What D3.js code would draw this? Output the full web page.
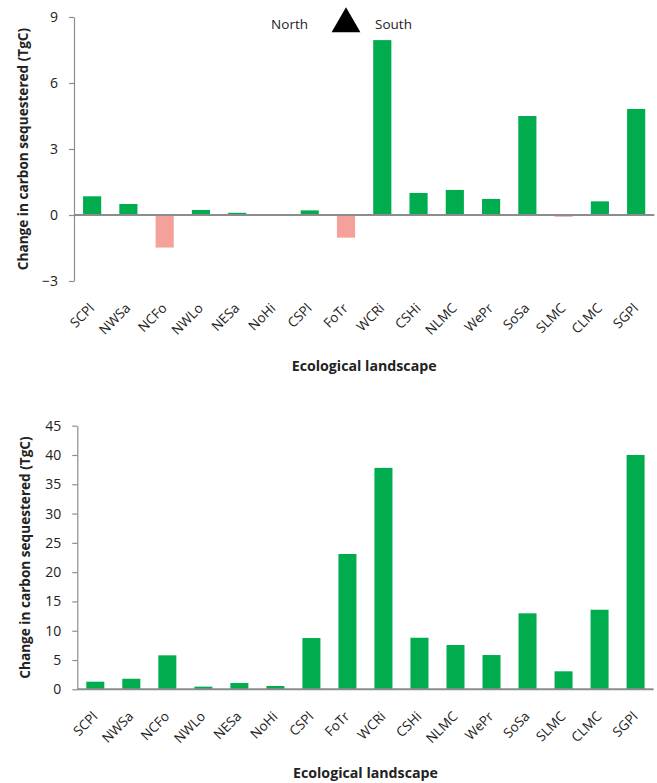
<!DOCTYPE html>
<html>
<head>
<meta charset="utf-8">
<script src="https://cdn.jsdelivr.net/npm/d3@7"></script>
<style>
  html, body { margin: 0; padding: 0; background: #fff; }
  svg { display: block; font-family: "Open Sans", "Noto Sans", sans-serif; }
</style>
</head>
<body>
<svg id="chart" width="657" height="783"></svg>
<script>
// Ecological landscapes, in north-to-south order
const landscapes = ["SCPl", "NWSa", "NCFo", "NWLo", "NESa", "NoHi", "CSPl", "FoTr",
                    "WCRi", "CSHi", "NLMC", "WePr", "SoSa", "SLMC", "CLMC", "SGPl"];

// Upper panel: change in carbon sequestered (TgC)
const changeUpper = [0.85, 0.5, -1.48, 0.23, 0.1, 0, 0.21, -1.03,
                     7.95, 1.0, 1.14, 0.73, 4.5, -0.08, 0.62, 4.82];
const ticksUpper = [-3, 0, 3, 6, 9];

// Lower panel: change in carbon sequestered (TgC)
const changeLower = [1.3, 1.8, 5.8, 0.45, 1.07, 0.56, 8.75, 23.1,
                     37.8, 8.8, 7.56, 5.85, 12.97, 3.07, 13.58, 40.0];
const ticksLower = [0, 5, 10, 15, 20, 25, 30, 35, 40, 45];

const yTitle = "Change in carbon sequestered (TgC)";
const xTitle = "Ecological landscape";

const GREEN = "#00AC4E";
const PINK = "#F4A09B";
const AXIS = "#8C8C8C";
const TEXT = "#222";

const svg = d3.select("#chart");

function panel(opts) {
  const { values, ticks, domain, left, right, top, bottom, titleX, titleBaseline } = opts;
  const g = svg.append("g");

  const x = d3.scaleBand().domain(landscapes).range([left, right]).padding(0);
  const y = d3.scaleLinear().domain(domain).range([bottom, top]);
  const barW = x.bandwidth() * 0.5;

  // bars
  g.append("g").selectAll("rect")
    .data(landscapes.map((k, i) => ({ k, v: values[i] })))
    .join("rect")
    .attr("x", d => x(d.k) + (x.bandwidth() - barW) / 2)
    .attr("width", barW)
    .attr("y", d => d.v >= 0 ? y(d.v) : y(0) + 1)
    .attr("height", d => d.v >= 0 ? y(0) - y(d.v) : Math.max(0, y(d.v) - y(0) - 1))
    .attr("fill", d => d.v >= 0 ? GREEN : PINK);

  // y axis
  const ya = g.append("g")
    .attr("transform", `translate(${left},0)`)
    .call(d3.axisLeft(y).tickValues(ticks).tickSize(5).tickSizeOuter(0).tickPadding(11).tickFormat(d3.format("d")));
  ya.select(".domain").attr("stroke", AXIS).attr("stroke-width", 1.2);
  ya.selectAll(".tick line").attr("stroke", AXIS).attr("stroke-width", 1.2);
  ya.selectAll(".tick text")
    .attr("fill", TEXT)
    .style("font-size", "14px")
    .style("font-family", "'Open Sans', sans-serif");

  // zero baseline
  g.append("line")
    .attr("x1", left).attr("x2", right)
    .attr("y1", y(0)).attr("y2", y(0))
    .attr("stroke", AXIS).attr("stroke-width", 2);

  // category labels, rotated below the plot
  const xa = g.append("g")
    .attr("transform", `translate(0,${bottom})`)
    .call(d3.axisBottom(x).tickSize(0).tickSizeOuter(0));
  xa.select(".domain").remove();
  xa.selectAll(".tick text")
    .attr("fill", TEXT)
    .style("font-size", "13.5px")
    .style("font-family", "'Open Sans', sans-serif")
    .attr("text-anchor", "end")
    .attr("dy", 0)
    .attr("y", 0)
    .attr("transform", "translate(3,28) rotate(-45)");

  // axis titles
  g.append("text")
    .attr("transform", `translate(${titleX},${(top + bottom) / 2}) rotate(-90)`)
    .attr("text-anchor", "middle")
    .attr("fill", TEXT)
    .style("font-size", "13.6px")
    .style("font-weight", "bold")
    .text(yTitle);

  g.append("text")
    .attr("x", (left + right) / 2)
    .attr("y", titleBaseline)
    .attr("text-anchor", "middle")
    .attr("fill", TEXT)
    .style("font-size", "14.2px")
    .style("font-weight", "bold")
    .text(xTitle);

  return { x, y };
}

const upper = panel({
  values: changeUpper, ticks: ticksUpper, domain: [-3, 9],
  left: 74, right: 654.3, top: 17, bottom: 281,
  titleX: 28, titleBaseline: 371
});

const lower = panel({
  values: changeLower, ticks: ticksLower, domain: [0, 45],
  left: 77.3, right: 653.6, top: 425.7, bottom: 689.3,
  titleX: 30, titleBaseline: 778
});

// North / South marker, centred on the FoTr category
const cx = upper.x("FoTr") + upper.x.bandwidth() / 2;
svg.append("path")
  .attr("d", d3.symbol().type(d3.symbolTriangle).size(360)())
  .attr("transform", `translate(${cx},${24})`)
  .attr("fill", "#000");
svg.append("text")
  .attr("x", cx - 38).attr("y", 29)
  .attr("text-anchor", "end")
  .attr("fill", TEXT)
  .style("font-size", "13.5px")
  .text("North");
svg.append("text")
  .attr("x", cx + 29).attr("y", 29)
  .attr("text-anchor", "start")
  .attr("fill", TEXT)
  .style("font-size", "13.5px")
  .text("South");
</script>
</body>
</html>
